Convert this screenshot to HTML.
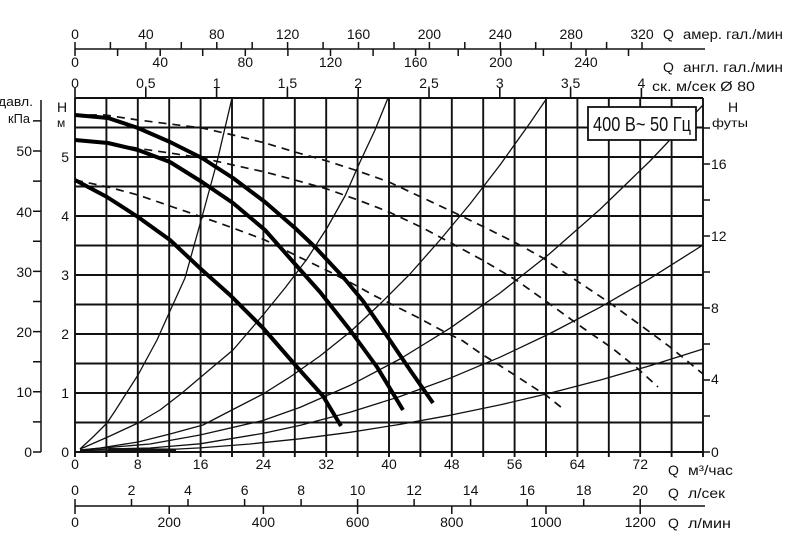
<!DOCTYPE html>
<html>
<head>
<meta charset="utf-8">
<style>
html,body{margin:0;padding:0;background:#fff;}
svg{display:block;}
text{font-family:"Liberation Sans","DejaVu Sans",sans-serif;fill:#111;}
</style>
</head>
<body>
<svg width="795" height="556" viewBox="0 0 795 556" xmlns="http://www.w3.org/2000/svg">
<rect width="795" height="556" fill="#fff"/>

<!-- Top axis line (gallons) -->
<path d="M75 49H705" stroke="#111" stroke-width="1.6" fill="none"/>
<!-- US gallon ticks (above) every 20 -->
<path d="M75 42V49 M110.4 42V49 M145.9 42V49 M181.3 42V49 M216.8 42V49 M252.2 42V49 M287.6 42V49 M323.1 42V49 M358.5 42V49 M394 42V49 M429.4 42V49 M464.8 42V49 M500.3 42V49 M535.7 42V49 M571.2 42V49 M606.6 42V49 M642 42V49" stroke="#111" stroke-width="1.5"/>
<!-- Imperial gallon ticks (below) every 20 -->
<path d="M75 49V56 M117.6 49V56 M160.2 49V56 M202.7 49V56 M245.3 49V56 M287.9 49V56 M330.5 49V56 M373.1 49V56 M415.6 49V56 M458.2 49V56 M500.8 49V56 M543.4 49V56 M586 49V56 M628.5 49V56" stroke="#111" stroke-width="1.5"/>

<g font-size="14" text-anchor="middle">
<text x="75" y="39">0</text><text x="145.9" y="39">40</text><text x="216.8" y="39">80</text><text x="287.6" y="39">120</text><text x="358.5" y="39">160</text><text x="429.4" y="39">200</text><text x="500.3" y="39">240</text><text x="571.2" y="39">280</text><text x="642" y="39">320</text>
<text x="75" y="67">0</text><text x="160.2" y="67">40</text><text x="245.3" y="67">80</text><text x="330.5" y="67">120</text><text x="415.6" y="67">160</text><text x="500.8" y="67">200</text><text x="586" y="67">240</text>
<text x="75" y="88">0</text><text x="145.8" y="88">0,5</text><text x="216.6" y="88">1</text><text x="287.4" y="88">1,5</text><text x="358.2" y="88">2</text><text x="429" y="88">2,5</text><text x="499.8" y="88">3</text><text x="570.6" y="88">3,5</text><text x="641.4" y="88">4</text>
</g>
<g font-size="14">
<text x="663" y="39">Q</text><text x="683" y="39" textLength="100" lengthAdjust="spacingAndGlyphs">амер. гал./мин</text>
<text x="663" y="72">Q</text><text x="683" y="72" textLength="100" lengthAdjust="spacingAndGlyphs">англ. гал./мин</text>
<text x="652" y="91" textLength="103" lengthAdjust="spacingAndGlyphs">ск. м/сек Ø 80</text>
</g>

<!-- velocity ticks above top border -->
<path d="M75 88V98 M145.8 88V98 M216.6 88V98 M287.4 88V98 M358.2 88V98 M429 88V98 M499.8 88V98 M570.6 88V98 M641.4 88V98" stroke="#111" stroke-width="1.6"/>

<!-- Grid -->
<path d="M75 98V457 M106.4 98V457 M137.8 98V457 M169.2 98V457 M200.6 98V457 M232 98V457 M263.4 98V457 M294.8 98V457 M326.2 98V457 M357.6 98V457 M389 98V457 M420.4 98V457 M451.8 98V457 M483.2 98V457 M514.6 98V457 M546 98V457 M577.4 98V457 M608.8 98V457 M640.2 98V457 M671.6 98V457 M703 98V457" stroke="#111" stroke-width="1.9" fill="none"/>
<path d="M75 98H703 M75 127.5H703 M75 157H703 M75 186.5H703 M75 216H703 M75 245.5H703 M75 275H703 M75 304.5H703 M75 334H703 M75 363.5H703 M75 393H703 M75 422.5H703 M75 452H703" stroke="#111" stroke-width="1.9" fill="none"/>

<!-- feet ticks -->
<path d="M703 452H710 M703 416H710 M703 380H710 M703 344H710 M703 308H710 M703 272H710 M703 236H710 M703 200H710 M703 164H710 M703 128H710" stroke="#111" stroke-width="1.5"/>

<!-- kPa axis -->
<path d="M41 100V452 M33 452H41 M33 421.9H41 M33 391.8H41 M33 361.7H41 M33 331.6H41 M33 301.5H41 M33 271.4H41 M33 241.3H41 M33 211.2H41 M33 181.1H41 M33 151H41 M33 120.9H41" stroke="#111" stroke-width="1.5" fill="none"/>

<!-- System curves -->
<g fill="none" stroke="#111" stroke-width="1.3" stroke-linejoin="round">
<polyline points="80,449 93,437 107,423 115,411 122,400 138,375 157,340 170,311 185,278 202,217 217,162 232,98"/>
<polyline points="80,449 85,447 110,436 138,423 160,410 182,393 208,371 233,350 263,315 285,288 307,259 327,228 345,196 360,162 375,130 388,98"/>
<polyline points="80,450 100,448 138,442 170,434 203,425 230,411 263,394 290,377 320,356 350,332 380,304 410,274 440,240 470,204 500,165 530,123 547,98"/>
<polyline points="80,450 103,448 150,444 200,435 263,420.5 300,407.4 350,385.4 400,359 450,328.2 500,293 550,253.4 600,209.4 650,161 703,105"/>
<polyline points="80,450.5 110,449 150,448 200,443.8 263,433.4 300,425.4 350,412.3 400,396.5 450,378.2 500,357.2 550,333.5 600,307.3 650,278.4 703,245"/>
<polyline points="80,451 150,450.5 200,447.9 250,444 300,438.8 350,432.3 400,424.4 450,415.3 500,404.9 550,393.1 600,380.1 650,365.7 703,349"/>
</g>
<path d="M108 449.3L176 449.8" stroke="#111" stroke-width="2.6"/>

<!-- Dashed curves -->
<g fill="none" stroke="#111" stroke-width="1.7" stroke-dasharray="8 6" stroke-linejoin="round">
<polyline points="75,115 105,115 138,120 170,124 202,128 233,135 265,143 295,152 327,161 358,171 389,182 421,197 453,212 484,227 516,243 543,258 562,271 580,283 610,303 643,327 670,347 703,374"/>
<polyline points="75,140 108,143 142,149 170,153 202,158 233,165 265,172 295,180 327,189 358,200 389,212 421,227 453,244 484,261 516,280 547,302 583,328 612,348 637,368 658,387"/>
<polyline points="75,180 108,187 138,195 170,206 202,217 233,228 265,240 297,256 330,272 357,286 373,295 397,307 417,317 443,331 463,341 480,353 510,372 530,385 547,396 562,408"/>
</g>

<!-- Thick pump curves -->
<g fill="none" stroke="#000" stroke-width="4" stroke-linejoin="round">
<polyline points="75,115 108,118 138,128 170,142 202,158 233,178 265,202 295,228 315,247 343,277 363,301 383,330 410,370 433,403"/>
<polyline points="75,140 108,143 138,150 170,162 202,182 233,203 265,230 295,264 320,292 350,330 377,367 403,410"/>
<polyline points="75,180 107,197 138,217 170,240 202,270 230,295 263,328 297,367 323,396 341,426"/>
</g>

<!-- Box -->
<rect x="588" y="107" width="108" height="33" fill="#fff" stroke="#111" stroke-width="1.8"/>
<text x="593" y="131" font-size="20" textLength="98" lengthAdjust="spacingAndGlyphs">400 В~ 50 Гц</text>

<!-- Left labels -->
<text x="-2" y="106" font-size="13" textLength="35" lengthAdjust="spacingAndGlyphs">давл.</text>
<text x="8" y="123" font-size="13" textLength="22" lengthAdjust="spacingAndGlyphs">кПа</text>
<text x="57" y="112" font-size="14">Н</text>
<text x="57" y="127" font-size="12">м</text>
<g font-size="14" text-anchor="end">
<text x="69" y="162">5</text><text x="69" y="221">4</text><text x="69" y="280">3</text><text x="69" y="339">2</text><text x="69" y="398">1</text><text x="69" y="457">0</text>
<text x="32" y="156">50</text><text x="32" y="217">40</text><text x="32" y="277">30</text><text x="32" y="337">20</text><text x="32" y="397">10</text><text x="32" y="457">0</text>
</g>

<!-- Right labels -->
<text x="728" y="112" font-size="14">Н</text>
<text x="712" y="127" font-size="12" textLength="36" lengthAdjust="spacingAndGlyphs">футы</text>
<g font-size="14">
<text x="711" y="169">16</text><text x="711" y="241">12</text><text x="711" y="313">8</text><text x="711" y="384">4</text><text x="711" y="457">0</text>
</g>

<!-- Bottom m3/h labels -->
<g font-size="14" text-anchor="middle">
<text x="75" y="469">0</text><text x="137.8" y="469">8</text><text x="200.6" y="469">16</text><text x="263.4" y="469">24</text><text x="326.2" y="469">32</text><text x="389" y="469">40</text><text x="451.8" y="469">48</text><text x="514.6" y="469">56</text><text x="577.4" y="469">64</text><text x="640.2" y="469">72</text>
<text x="75" y="495">0</text><text x="131.5" y="495">2</text><text x="188" y="495">4</text><text x="244.6" y="495">6</text><text x="301.1" y="495">8</text><text x="357.6" y="495">10</text><text x="414.1" y="495">12</text><text x="470.6" y="495">14</text><text x="527.2" y="495">16</text><text x="583.7" y="495">18</text><text x="640.2" y="495">20</text>
<text x="75" y="527">0</text><text x="169.2" y="527">200</text><text x="263.4" y="527">400</text><text x="357.6" y="527">600</text><text x="451.8" y="527">800</text><text x="546" y="527">1000</text><text x="640.2" y="527">1200</text>
</g>
<g font-size="14">
<text x="668" y="475">Q</text><text x="688" y="475" textLength="45" lengthAdjust="spacingAndGlyphs">м³/час</text>
<text x="668" y="498">Q</text><text x="688" y="498" textLength="37" lengthAdjust="spacingAndGlyphs">л/сек</text>
<text x="668" y="528">Q</text><text x="688" y="528" textLength="43" lengthAdjust="spacingAndGlyphs">л/мин</text>
</g>

<!-- Bottom axis -->
<path d="M75 506H705" stroke="#111" stroke-width="1.6"/>
<path d="M75 499V506 M131.5 499V506 M188 499V506 M244.6 499V506 M301.1 499V506 M357.6 499V506 M414.1 499V506 M470.6 499V506 M527.2 499V506 M583.7 499V506 M640.2 499V506" stroke="#111" stroke-width="1.5"/>
<path d="M75 506V514 M169.2 506V514 M263.4 506V514 M357.6 506V514 M451.8 506V514 M546 506V514 M640.2 506V514" stroke="#111" stroke-width="1.5"/>
</svg>
</body>
</html>
